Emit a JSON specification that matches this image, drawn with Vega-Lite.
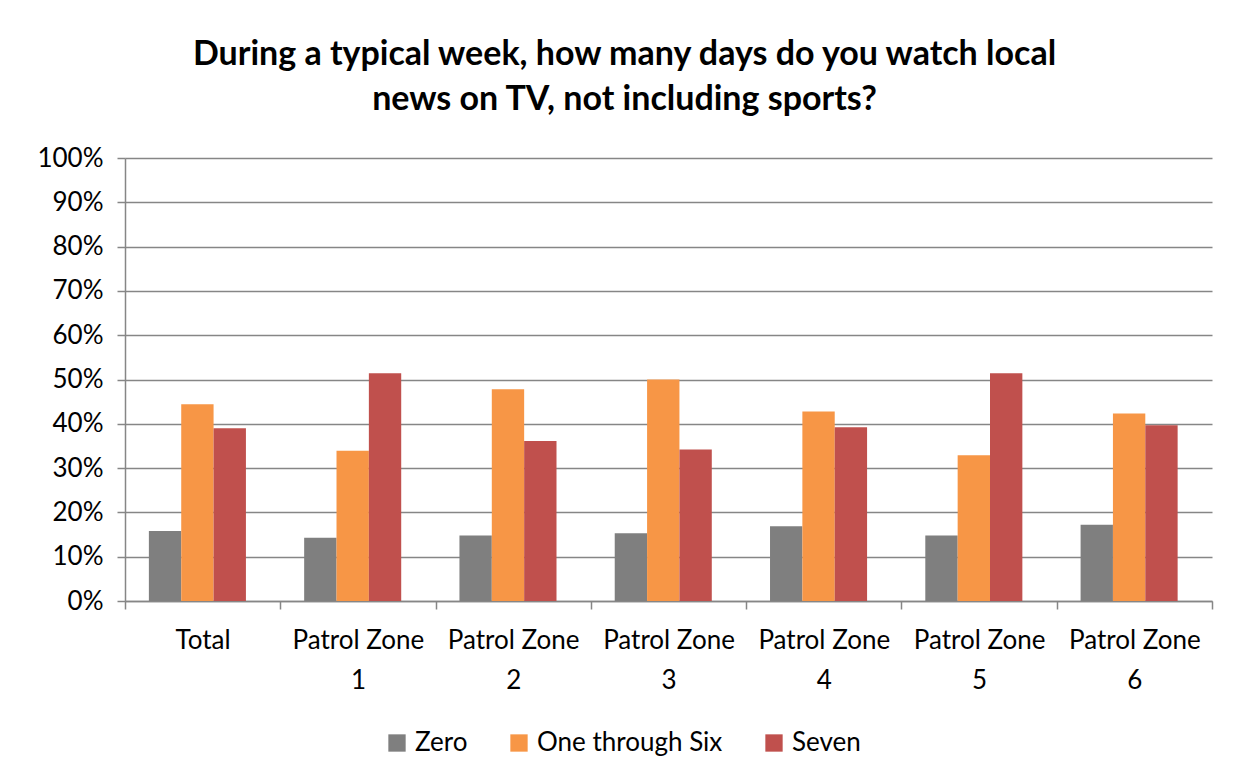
{
  "$schema": "https://vega.github.io/schema/vega-lite/v6.json",
  "width": 1087,
  "height": 443,
  "autosize": {"type": "none"},
  "padding": {"left": 125, "top": 158, "right": 22, "bottom": 181},
  "background": "white",
  "title": {
    "text": ["During a typical week, how many days do you watch local", "news on TV, not including sports?"],
    "font": "Lato",
    "fontSize": 34,
    "fontWeight": "bold",
    "color": "black",
    "anchor": "middle",
    "dx": -44,
    "lineHeight": 45,
    "offset": 28
  },
  "data": {
    "values": [
      {"group": "Total", "answer": "Zero", "pct": 15.8},
      {"group": "Total", "answer": "One through Six", "pct": 44.4},
      {"group": "Total", "answer": "Seven", "pct": 39.0},
      {"group": "Patrol Zone 1", "answer": "Zero", "pct": 14.3},
      {"group": "Patrol Zone 1", "answer": "One through Six", "pct": 33.9},
      {"group": "Patrol Zone 1", "answer": "Seven", "pct": 51.4},
      {"group": "Patrol Zone 2", "answer": "Zero", "pct": 14.8},
      {"group": "Patrol Zone 2", "answer": "One through Six", "pct": 47.8},
      {"group": "Patrol Zone 2", "answer": "Seven", "pct": 36.1},
      {"group": "Patrol Zone 3", "answer": "Zero", "pct": 15.3},
      {"group": "Patrol Zone 3", "answer": "One through Six", "pct": 50.0},
      {"group": "Patrol Zone 3", "answer": "Seven", "pct": 34.2},
      {"group": "Patrol Zone 4", "answer": "Zero", "pct": 16.9},
      {"group": "Patrol Zone 4", "answer": "One through Six", "pct": 42.8},
      {"group": "Patrol Zone 4", "answer": "Seven", "pct": 39.2},
      {"group": "Patrol Zone 5", "answer": "Zero", "pct": 14.8},
      {"group": "Patrol Zone 5", "answer": "One through Six", "pct": 32.9},
      {"group": "Patrol Zone 5", "answer": "Seven", "pct": 51.4},
      {"group": "Patrol Zone 6", "answer": "Zero", "pct": 17.2},
      {"group": "Patrol Zone 6", "answer": "One through Six", "pct": 42.3},
      {"group": "Patrol Zone 6", "answer": "Seven", "pct": 39.7}
    ]
  },
  "mark": {"type": "bar"},
  "encoding": {
    "x": {
      "field": "group",
      "type": "nominal",
      "sort": ["Total", "Patrol Zone 1", "Patrol Zone 2", "Patrol Zone 3", "Patrol Zone 4", "Patrol Zone 5", "Patrol Zone 6"],
      "scale": {"paddingInner": 0, "paddingOuter": 0},
      "title": null,
      "axis": {
        "labelAngle": 0,
        "labelFont": "Lato",
        "labelFontSize": 26,
        "labelColor": "black",
        "labelPadding": 18,
        "labelLineHeight": 40,
        "labelLimit": 400,
        "labelExpr": "datum.value == null ? '' : (datum.value == 'Total' ? 'Total' : ['Patrol Zone', replace(datum.value, 'Patrol Zone ', '')])",
        "tickBand": "extent",
        "tickSize": 8,
        "tickColor": "#868686",
        "tickWidth": 1.5,
        "domainColor": "#868686",
        "domainWidth": 1.5,
        "grid": false
      }
    },
    "xOffset": {
      "field": "answer",
      "type": "nominal",
      "sort": ["Zero", "One through Six", "Seven"],
      "scale": {"paddingInner": 0, "paddingOuter": 0.9, "align": 0.41}
    },
    "y": {
      "field": "pct",
      "type": "quantitative",
      "scale": {"domain": [0, 100]},
      "title": null,
      "axis": {
        "values": [0, 10, 20, 30, 40, 50, 60, 70, 80, 90, 100],
        "labelExpr": "datum.value + '%'",
        "labelFont": "Lato",
        "labelFontSize": 26,
        "labelColor": "black",
        "labelPadding": 14,
        "tickSize": 8,
        "tickColor": "#868686",
        "tickWidth": 1.5,
        "domainColor": "#868686",
        "domainWidth": 1.5,
        "grid": true,
        "gridColor": "#868686",
        "gridWidth": 1.5
      }
    },
    "color": {
      "field": "answer",
      "type": "nominal",
      "sort": ["Zero", "One through Six", "Seven"],
      "scale": {"domain": ["Zero", "One through Six", "Seven"], "range": ["#7F7F7F", "#F79646", "#C0504D"]},
      "legend": {
        "title": null,
        "orient": "none",
        "direction": "horizontal",
        "legendX": 259,
        "legendY": 572,
        "symbolType": "square",
        "symbolSize": 300,
        "symbolStrokeWidth": 0,
        "labelFont": "Lato",
        "labelFontSize": 26,
        "labelColor": "black",
        "labelLimit": 400,
        "labelOffset": 5,
        "columnPadding": 38
      }
    }
  },
  "config": {
    "view": {"stroke": null}
  }
}
